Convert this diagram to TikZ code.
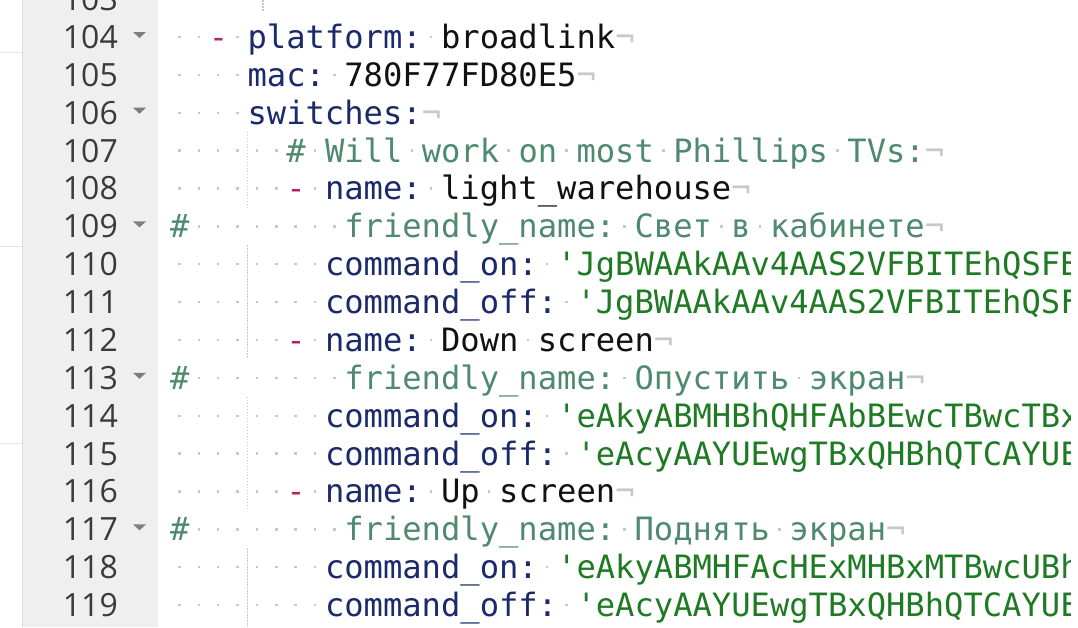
\documentclass[tikz,border=0pt]{standalone}
\usepackage{fontspec}
\usepackage{xcolor}
\newfontfamily\codefont{DejaVu Sans Mono}
\newfontfamily\numfont{Open Sans}

\definecolor{keyc}{HTML}{1B2A6B}
\definecolor{dashc}{HTML}{B5236B}
\definecolor{valc}{HTML}{111111}
\definecolor{cmtc}{HTML}{4F8A6F}
\definecolor{strc}{HTML}{1F7A24}
\definecolor{wsc}{HTML}{C8C8C8}
\definecolor{numc}{HTML}{3A3A3A}
\definecolor{gutterc}{HTML}{EFEFEF}
\definecolor{foldc}{HTML}{7E7E7E}
\definecolor{guidec}{HTML}{C8C8C8}

% small whitespace dot, one column wide
\newcommand{\wsdot}{\rlap{\hspace{0.255em}\raisebox{0.32em}{\textcolor{wsc}{\rule{2.4pt}{2.4pt}}}}\phantom{x}}
\newcommand{\wsn}[1]{\foreach \i in {1,...,#1}{\wsdot}}
\newcommand{\eolmark}{\textcolor{wsc}{¬}}
\newcommand{\dsh}{\textcolor{dashc}{-}}
\newcommand{\ky}[1]{\textcolor{keyc}{#1}}
\newcommand{\vl}[1]{\textcolor{valc}{#1}}
\newcommand{\cm}[1]{\textcolor{cmtc}{#1}}
\newcommand{\st}[1]{\textcolor{strc}{#1}}
\newcommand{\us}{\symbol{"5F}}

\tikzset{
  codeline/.style={anchor=base west, inner sep=0pt,
    font=\codefont\fontsize{32.14pt}{38pt}\selectfont},
  lineno/.style={anchor=base east, inner sep=0pt, text=numc,
    font=\numfont\fontsize{32pt}{38pt}\selectfont},
  guide/.style={draw=guidec, line width=1.2pt, dash pattern=on 1.5pt off 1.5pt}
}

\begin{document}
\begin{tikzpicture}[x=1pt,y=-1pt]
  \useasboundingbox (0,0) rectangle (1078,627);
  \clip (0,0) rectangle (1078,627);
  % gutter
  \fill[white] (0,0) rectangle (1078,627);
  \fill[gutterc] (22,0) rectangle (158,627);
  \draw[gray!25] (22,0) -- (22,627);
  \foreach \y in {52,246,443}
    \draw[gray!20] (0,\y) -- (22,\y);
  % line numbers
  \foreach \n in {103,...,119}
    \node[lineno] (n\n) at (118,{48.5+37.87*(\n-104)}) {\n};
  % fold marks
  \foreach \k in {0,2,5,9,13}
    \fill[foldc] (133,{32+37.87*\k}) -- (146,{32+37.87*\k})
      -- (139.5,{38+37.87*\k}) -- cycle;
  % indent guides
  \draw[guide] (263,0) -- (263,12);
  \draw[guide] (247.5,131.7) -- (247.5,207.5);
  \draw[guide] (247.5,245.3) -- (247.5,358.9);
  \draw[guide] (247.5,396.8) -- (247.5,510.4);
  \draw[guide] (247.5,548.3) -- (247.5,627);
  % code
  \begin{scope}
  \clip (158,0) rectangle (1070,627);
  \node[codeline] (l104) at (170,48.5) {\wsn{2}\dsh\wsdot\ky{platform:}\wsdot\vl{broadlink}\eolmark};
  \node[codeline] (l105) at (170,86.37) {\wsn{4}\ky{mac:}\wsdot\vl{780F77FD80E5}\eolmark};
  \node[codeline] (l106) at (170,124.24) {\wsn{4}\ky{switches:}\eolmark};
  \node[codeline] (l107) at (170,162.11) {\wsn{6}\cm{\#}\wsdot\cm{Will}\wsdot\cm{work}\wsdot\cm{on}\wsdot\cm{most}\wsdot\cm{Phillips}\wsdot\cm{TVs:}\eolmark};
  \node[codeline] (l108) at (170,199.98) {\wsn{6}\dsh\wsdot\ky{name:}\wsdot\vl{light\us warehouse}\eolmark};
  \node[codeline] (l109) at (170,237.85) {\cm{\#}\wsn{8}\cm{friendly\us name:}\wsdot\cm{Свет}\wsdot\cm{в}\wsdot\cm{кабинете}\eolmark};
  \node[codeline] (l110) at (170,275.72) {\wsn{8}\ky{command\us on:}\wsdot\st{\textquotesingle JgBWAAkAAv4AAS2VFBITEhQSFB}};
  \node[codeline] (l111) at (170,313.59) {\wsn{8}\ky{command\us off:}\wsdot\st{\textquotesingle JgBWAAkAAv4AAS2VFBITEhQSF}};
  \node[codeline] (l112) at (170,351.46) {\wsn{6}\dsh\wsdot\ky{name:}\wsdot\vl{Down}\wsdot\vl{screen}\eolmark};
  \node[codeline] (l113) at (170,389.33) {\cm{\#}\wsn{8}\cm{friendly\us name:}\wsdot\cm{Опустить}\wsdot\cm{экран}\eolmark};
  \node[codeline] (l114) at (170,427.2) {\wsn{8}\ky{command\us on:}\wsdot\st{\textquotesingle eAkyABMHBhQHFAbBEwcTBwcTBx}};
  \node[codeline] (l115) at (170,465.07) {\wsn{8}\ky{command\us off:}\wsdot\st{\textquotesingle eAcyAAYUEwgTBxQHBhQTCAYUE}};
  \node[codeline] (l116) at (170,502.94) {\wsn{6}\dsh\wsdot\ky{name:}\wsdot\vl{Up}\wsdot\vl{screen}\eolmark};
  \node[codeline] (l117) at (170,540.81) {\cm{\#}\wsn{8}\cm{friendly\us name:}\wsdot\cm{Поднять}\wsdot\cm{экран}\eolmark};
  \node[codeline] (l118) at (170,578.68) {\wsn{8}\ky{command\us on:}\wsdot\st{\textquotesingle eAkyABMHFAcHExMHBxMTBwcUBh}};
  \node[codeline] (l119) at (170,616.55) {\wsn{8}\ky{command\us off:}\wsdot\st{\textquotesingle eAcyAAYUEwgTBxQHBhQTCAYUE}};
  \end{scope}
\end{tikzpicture}
\end{document}
